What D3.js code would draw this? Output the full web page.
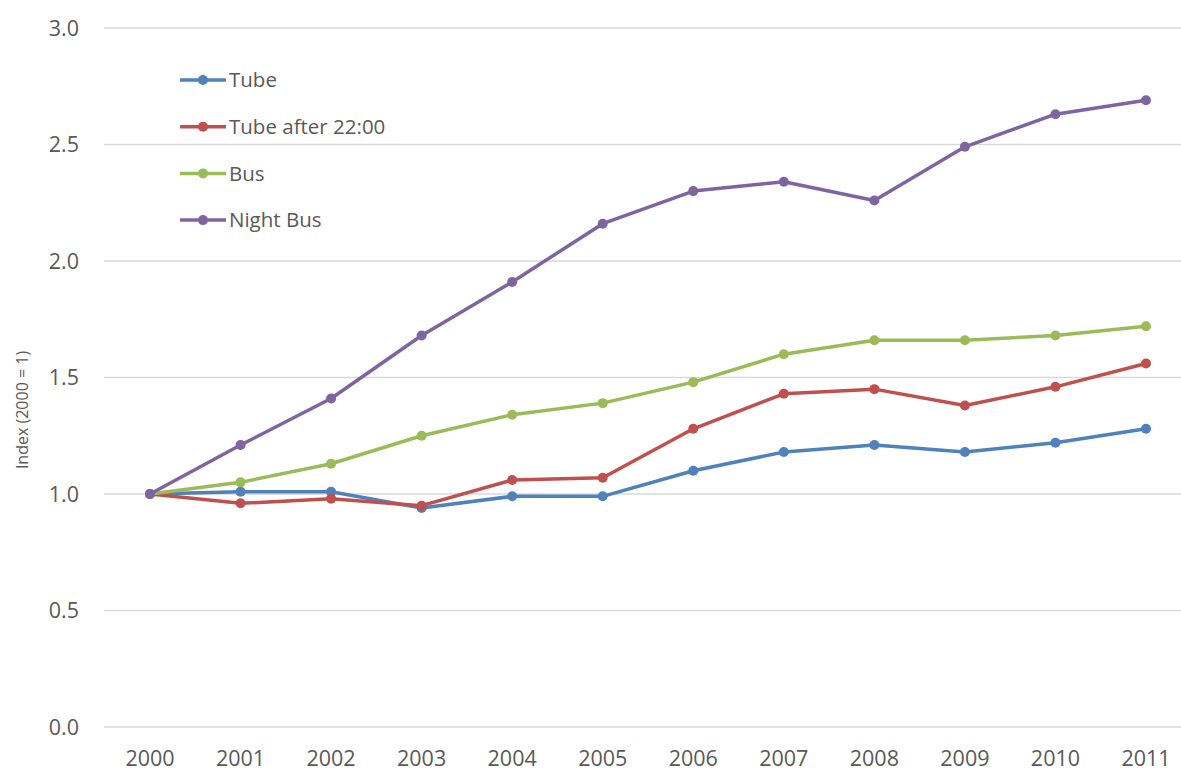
<!DOCTYPE html>
<html>
<head>
<meta charset="utf-8">
<script src="https://cdnjs.cloudflare.com/ajax/libs/d3/7.8.5/d3.min.js"></script>
<style>
  body { margin: 0; background: #fff; }
  svg { display: block; font-family: "Open Sans", "Noto Sans", sans-serif; }
  .grid line { stroke: #d9d9d9; stroke-width: 1.5; }
  .tick-label { fill: #595959; font-size: 21.5px; }
  .legend-label { fill: #595959; font-size: 20.5px; }
  .axis-title { fill: #595959; font-size: 16px; }
</style>
</head>
<body>
<svg id="chart" width="1181" height="774"></svg>
<script>
// data
var years = [2000, 2001, 2002, 2003, 2004, 2005, 2006, 2007, 2008, 2009, 2010, 2011];
var seriesNames = ["Tube", "Tube after 22:00", "Bus", "Night Bus"];
var seriesColors = ["#4f81bd", "#c0504d", "#9bbb59", "#8064a2"];
var tube      = [1.00, 1.01, 1.01, 0.94, 0.99, 0.99, 1.10, 1.18, 1.21, 1.18, 1.22, 1.28];
var tubeNight = [1.00, 0.96, 0.98, 0.95, 1.06, 1.07, 1.28, 1.43, 1.45, 1.38, 1.46, 1.56];
var bus       = [1.00, 1.05, 1.13, 1.25, 1.34, 1.39, 1.48, 1.60, 1.66, 1.66, 1.68, 1.72];
var nightBus  = [1.00, 1.21, 1.41, 1.68, 1.91, 2.16, 2.30, 2.34, 2.26, 2.49, 2.63, 2.69];
var yTicks = [0, 0.5, 1.0, 1.5, 2.0, 2.5, 3.0];

var seriesValues = [tube, tubeNight, bus, nightBus];

var svg = d3.select('#chart');

var x = d3.scalePoint()
    .domain(years)
    .range([150, 1146]);

var y = d3.scaleLinear()
    .domain([0, 3])
    .range([727, 28]);

// gridlines
svg.append('g')
    .attr('class', 'grid')
    .selectAll('line')
    .data(yTicks)
    .enter()
    .append('line')
    .attr('x1', 104)
    .attr('x2', 1181)
    .attr('y1', function(d) { return y(d); })
    .attr('y2', function(d) { return y(d); });

// y tick labels
svg.append('g')
    .selectAll('text')
    .data(yTicks)
    .enter()
    .append('text')
    .attr('class', 'tick-label')
    .attr('x', 79)
    .attr('y', function(d) { return y(d); })
    .attr('dy', '0.35em')
    .style('text-anchor', 'end')
    .text(function(d) { return d3.format('.1f')(d); });

// x tick labels
svg.append('g')
    .selectAll('text')
    .data(years)
    .enter()
    .append('text')
    .attr('class', 'tick-label')
    .attr('x', function(d) { return x(d); })
    .attr('y', 766)
    .style('text-anchor', 'middle')
    .text(function(d) { return d; });

// axis title
svg.append('text')
    .attr('class', 'axis-title')
    .attr('transform', 'translate(28,410) rotate(-90)')
    .style('text-anchor', 'middle')
    .text('Index (2000 = 1)');

var line = d3.line()
    .x(function(d, i) { return x(years[i]); })
    .y(function(d) { return y(d); });

seriesValues.forEach(function(vals, s) {
    var g = svg.append('g');
    g.append('path')
        .datum(vals)
        .attr('d', line)
        .attr('fill', 'none')
        .attr('stroke', seriesColors[s])
        .attr('stroke-width', 3.5)
        .attr('stroke-linejoin', 'round');
    g.selectAll('circle')
        .data(vals)
        .enter()
        .append('circle')
        .attr('cx', function(d, i) { return x(years[i]); })
        .attr('cy', function(d) { return y(d); })
        .attr('r', 5)
        .attr('fill', seriesColors[s]);
});

// legend
var legend = svg.append('g')
    .selectAll('g')
    .data(seriesNames)
    .enter()
    .append('g')
    .attr('transform', function(d, i) { return 'translate(180,' + (80 + i * 46.7) + ')'; });

legend.append('line')
    .attr('x1', 0).attr('x2', 46)
    .attr('stroke', function(d, i) { return seriesColors[i]; })
    .attr('stroke-width', 3.5);
legend.append('circle')
    .attr('cx', 23)
    .attr('r', 5)
    .attr('fill', function(d, i) { return seriesColors[i]; });
legend.append('text')
    .attr('class', 'legend-label')
    .attr('x', 49)
    .attr('dy', '0.35em')
    .text(function(d) { return d; });
</script>
</body>
</html>
